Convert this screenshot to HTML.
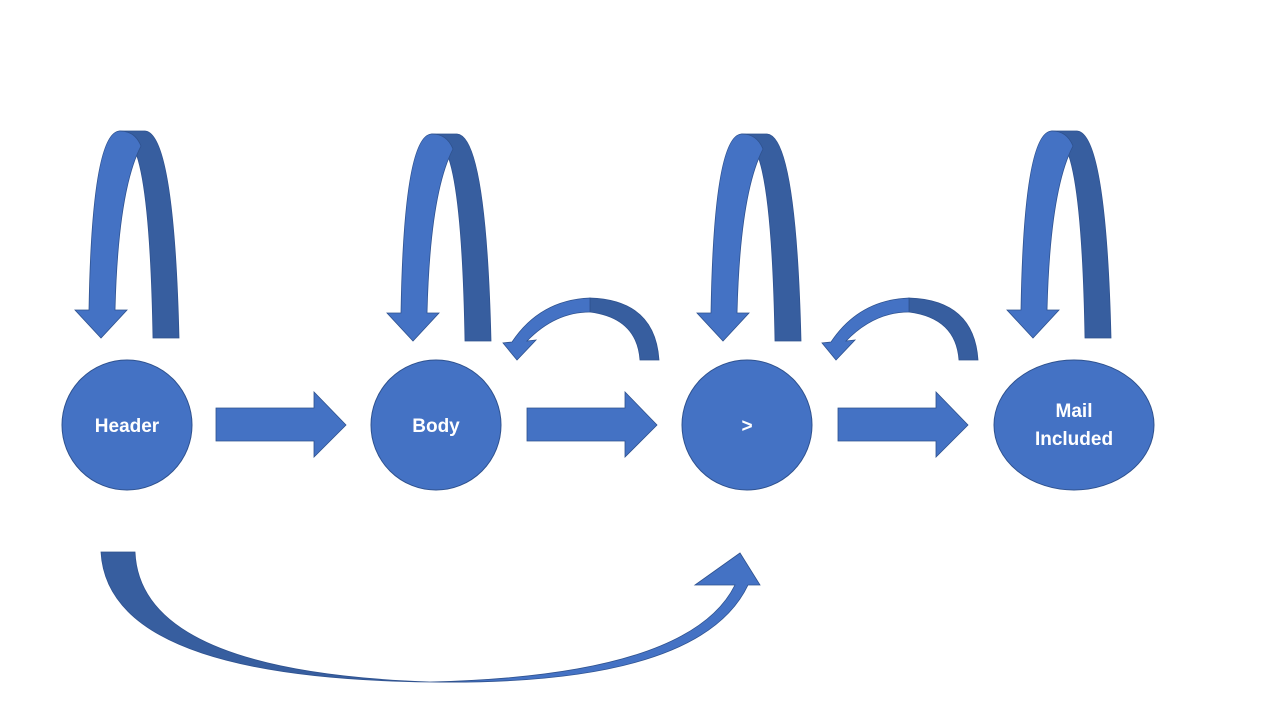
<!DOCTYPE html>
<html><head><meta charset="utf-8"><style>html,body{margin:0;padding:0;background:#fff}svg{display:block}</style></head>
<body>
<svg width="1280" height="720" viewBox="0 0 1280 720" xmlns="http://www.w3.org/2000/svg">
<defs>
<g id="loop">
<path d="M120 131 L145 131 Q174 133 179 338 L153 338 Q150 165 130 142 Z" fill="#375E9F" stroke="#2F528F" stroke-width="0.8"/>
<path d="M120 131 Q135 131 141 146 Q118 190 115 310 L127 310 L101 338 L75 310 L89 310 Q92 131 120 131 Z" fill="#4472C4" stroke="#2F528F" stroke-width="0.8"/>
</g>
<g id="arc">
<path d="M590 298 Q655 300 659 360 L640 360 Q637 318 590 312 Z" fill="#375E9F" stroke="#2F528F" stroke-width="0.8"/>
<path d="M590 298 Q540 300 512 342 L503 343 L517 360 L536 340 L527 341 Q555 312 590 312 Z" fill="#4472C4" stroke="#2F528F" stroke-width="0.8"/>
</g>
<path id="blk" d="M216 408 L314 408 L314 392 L346 425 L314 457 L314 441 L216 441 Z" fill="#4472C4" stroke="#2F528F" stroke-width="0.8"/>
</defs>
<use href="#loop"/>
<use href="#loop" transform="translate(312,3)"/>
<use href="#loop" transform="translate(622,3)"/>
<use href="#loop" transform="translate(932,0)"/>
<use href="#arc"/>
<use href="#arc" transform="translate(319,0)"/>
<use href="#blk"/>
<use href="#blk" transform="translate(311,0)"/>
<use href="#blk" transform="translate(622,0)"/>
<path d="M101 552 L135 552 Q140 672 430 682 Q108 678 101 552 Z" fill="#375E9F" stroke="#2F528F" stroke-width="0.8"/>
<path d="M430 682 Q690 676 735 585 L695 585 L740 553 L760 585 L748 585 Q700 686 430 682 Z" fill="#4472C4" stroke="#2F528F" stroke-width="0.8"/>
<g fill="#4472C4" stroke="#2F528F" stroke-width="1">
<circle cx="127" cy="425" r="65"/>
<circle cx="436" cy="425" r="65"/>
<circle cx="747" cy="425" r="65"/>
<ellipse cx="1074" cy="425" rx="80" ry="65"/>
</g>
<g fill="#fff" font-family="Liberation Sans, sans-serif" font-weight="bold" font-size="19" text-anchor="middle">
<text x="127" y="432">Header</text>
<text x="436" y="432">Body</text>
<text x="747" y="432">&gt;</text>
<text x="1074" y="417">Mail</text>
<text x="1074" y="445">Included</text>
</g>
</svg>
</body></html>
